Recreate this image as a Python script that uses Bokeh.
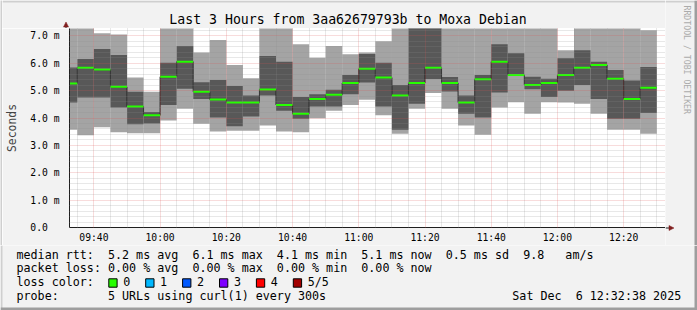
import math
import re
import pandas as pd
from bokeh.plotting import figure
from bokeh.layouts import row, column
from bokeh.models import Range1d, FixedTicker, CustomJSTickFormatter
from bokeh.core.properties import value
from bokeh.embed import file_html
from bokeh.resources import INLINE

# ---------------- data ----------------
bar_end = ["09:35", "09:40", "09:45", "09:50", "09:55", "10:00", "10:05", "10:10",
           "10:15", "10:20", "10:25", "10:30", "10:35", "10:40", "10:45", "10:50",
           "10:55", "11:00", "11:05", "11:10", "11:15", "11:20", "11:25", "11:30",
           "11:35", "11:40", "11:45", "11:50", "11:55", "12:00", "12:05", "12:10",
           "12:15", "12:20", "12:25", "12:30"]
rtt_min = [3.57, 3.37, 3.66, 3.48, 3.44, 3.44, 3.91, 4.34, 3.79, 3.51, 3.54, 3.54,
           3.73, 3.51, 3.48, 3.99, 4.27, 4.48, 4.67, 4.10, 3.43, 4.34, 4.92, 4.34,
           3.73, 3.39, 4.39, 4.58, 4.16, 4.58, 4.57, 4.52, 4.16, 3.57, 3.57, 3.43]
rtt_p2 = [4.57, 4.75, 4.75, 4.39, 3.77, 3.80, 4.48, 5.07, 4.70, 4.02, 3.70, 4.06,
          4.82, 4.27, 3.97, 4.42, 4.42, 4.87, 5.30, 4.42, 3.57, 4.52, 5.43, 4.97,
          4.16, 4.02, 4.93, 5.55, 5.05, 4.77, 5.00, 5.21, 4.70, 3.97, 3.97, 4.18]
rtt_median = [5.26, 5.84, 5.77, 5.14, 4.42, 4.10, 5.51, 6.06, 4.96, 4.68, 4.57, 4.57,
              5.04, 4.48, 4.16, 4.70, 4.85, 5.28, 5.80, 5.48, 4.82, 5.28, 5.84, 5.28,
              4.57, 5.42, 6.06, 5.57, 5.21, 5.28, 5.57, 5.84, 5.94, 5.44, 4.70, 5.11]
rtt_p4 = [5.85, 6.16, 6.52, 6.30, 4.96, 4.22, 6.02, 6.63, 5.31, 5.39, 5.17, 4.82,
          6.27, 6.06, 4.77, 4.87, 5.03, 5.57, 6.34, 6.02, 5.21, 7.50, 7.40, 5.50,
          4.82, 5.57, 6.70, 6.37, 5.51, 5.44, 6.19, 6.48, 6.06, 5.76, 5.37, 5.87]
rtt_max = [7.80, 7.60, 7.10, 7.05, 5.48, 4.96, 7.90, 8.20, 6.40, 6.85, 5.94, 5.45,
           7.70, 7.50, 6.70, 6.20, 6.63, 6.33, 6.40, 6.81, 7.60, 8.40, 8.00, 7.90,
           7.70, 7.60, 8.10, 7.80, 7.50, 7.60, 6.48, 7.90, 7.70, 7.60, 7.50, 7.21]

x_tick_labels = ["09:40", "10:00", "10:20", "10:40", "11:00", "11:20", "11:40", "12:00", "12:20"]
y_ticks = [0, 1, 2, 3, 4, 5, 6, 7]

title_text = "Last 3 Hours from 3aa62679793b to Moxa Debian"
legend_lines = [
    "median rtt:  5.2 ms avg  6.1 ms max  4.1 ms min  5.1 ms now  0.5 ms sd  9.8   am/s",
    "packet loss: 0.00 % avg  0.00 % max  0.00 % min  0.00 % now",
    "loss color:",
    "probe:       5 URLs using curl(1) every 300s",
]
loss_labels = ["0", "1", "2", "3", "4", "5/5"]
loss_colors = ["#26ff00", "#00b8ff", "#0059ff", "#7e00ff", "#ff0000", "#a10000"]
date_text = "Sat Dec  6 12:32:38 2025"
watermark = "RRDTOOL / TOBI OETIKER"

# ---------------- helpers ----------------
DAY = "2025-12-06 "
EPOCH = pd.Timestamp("1970-01-01")


def ms(hhmm):
    return (pd.Timestamp(DAY + hhmm) - EPOCH) / pd.Timedelta(milliseconds=1)


def keep_spaces(s):
    # runs of spaces would collapse in SVG text; keep them with no-break spaces
    return re.sub(r" {2,}", lambda m: " " + "\u00a0" * (len(m.group()) - 1), s)


def mid(baseline, size):
    # vertical middle of a text line whose alphabetic baseline is given
    return baseline - 0.36 * size


MONO = "DejaVu Sans Mono"
BG = "#f2f2f2"
SHADE_A = "#cfcfcf"
SHADE_B = "#9e9e9e"
ARROW = "#801f1f"
AXIS = "#1f1f1f"
TITLE_PX = 13.2
LEG_PX = 11.7

STEP = 5 * 60 * 1000
X0 = ms("09:32:38")
X1 = ms("12:32:38")
YMAX = 200 / 27.5
TOP_H, MAIN_H, BOT_H = 28, 217, 65
LEFT_W, MAIN_W, RIGHT_W = 2, 663, 32


def aux(x0, y0, w, h, bg=BG):
    """helper figure whose data coordinates are page pixels"""
    f = figure(width=w, height=h, x_range=Range1d(x0, x0 + w), y_range=Range1d(y0 + h, y0),
               output_backend="svg", toolbar_location=None, title=None,
               x_axis_location=None, y_axis_location=None,
               min_border=0, min_border_left=0, min_border_right=0,
               min_border_top=0, min_border_bottom=0,
               background_fill_color=bg, border_fill_color=bg, outline_line_color=None)
    f.grid.visible = False
    return f


# ---------------- main chart ----------------
right = [ms(t) for t in bar_end]
left = [r - STEP for r in right]

p = figure(width=MAIN_W, height=MAIN_H, output_backend="svg", toolbar_location=None,
           title=None, x_range=Range1d(X0, X1), y_range=Range1d(0, YMAX),
           min_border_left=63, min_border_right=0, min_border_top=0, min_border_bottom=17,
           background_fill_color="white", border_fill_color=BG, outline_line_color=None)

p.quad(left=left, right=right, bottom=rtt_min, top=rtt_max,
       fill_color="#a4a4a4", line_color=None)
p.quad(left=left, right=right, bottom=rtt_p2, top=rtt_p4,
       fill_color="#585858", line_color=None)
p.step(x=left + [right[-1]], y=rtt_median + [rtt_median[-1]], mode="after",
       line_color="#202020", line_width=1)
p.segment(x0=left, x1=right, y0=rtt_median, y1=rtt_median,
          line_color=loss_colors[0], line_width=2)

major_x = [ms(t) for t in x_tick_labels]
minor_x = [m for m in (ms(t) for t in bar_end) if m not in major_x]
xt = FixedTicker(ticks=major_x, minor_ticks=minor_x)
p.xaxis.ticker = xt
p.xgrid.ticker = xt
p.xaxis.formatter = CustomJSTickFormatter(code="""
const d = new Date(tick);
return String(d.getUTCHours()).padStart(2,'0') + ':' + String(d.getUTCMinutes()).padStart(2,'0');
""")
yt = FixedTicker(ticks=y_ticks, minor_ticks=[i / 5 for i in range(0, 37) if i % 5])
p.yaxis.ticker = yt
p.ygrid.ticker = yt
p.yaxis.formatter = CustomJSTickFormatter(code="""
return tick == 0 ? '0.0\u00a0\u00a0' : tick.toFixed(1) + ' m';
""")

for ax in (p.xaxis[0], p.yaxis[0]):
    ax.major_tick_out = 0
    ax.major_tick_in = 0
    ax.minor_tick_out = 0
    ax.minor_tick_in = 0
    ax.axis_line_color = AXIS
    ax.major_label_text_font = MONO
    ax.major_label_text_font_size = "9.7px"
    ax.major_label_text_color = "black"
p.xaxis.major_label_standoff = 4
p.yaxis.major_label_standoff = 10
p.yaxis.axis_label = "Seconds"
p.yaxis.axis_label_text_font = MONO
p.yaxis.axis_label_text_font_size = "11.4px"
p.yaxis.axis_label_text_font_style = "normal"
p.yaxis.axis_label_standoff = 8

for g in (p.xgrid[0], p.ygrid[0]):
    g.level = "guide"
    g.grid_line_color = "#de4f4f"
    g.grid_line_alpha = 0.4
    g.grid_line_dash = "1 1"
    g.minor_grid_line_color = "#8f8f8f"
    g.minor_grid_line_alpha = 0.4
    g.minor_grid_line_dash = "1 1"

# ---------------- left bevel strip ----------------
left_strip = aux(0, 0, LEFT_W, TOP_H + MAIN_H, bg=SHADE_A)

# ---------------- top strip: title, y-axis arrow ----------------
top = aux(LEFT_W, 0, MAIN_W, TOP_H)
top.quad(left=[LEFT_W], right=[LEFT_W + MAIN_W], top=[0], bottom=[2],
         fill_color=SHADE_A, line_color=None)
top.text(x=[347.5], y=[mid(24, TITLE_PX)], text=[title_text], text_font=value(MONO),
         text_font_size=value(f"{TITLE_PX}px"), text_align="center",
         text_baseline="middle", text_color="black")
top.segment(x0=[65.5], x1=[65.5], y0=[25], y1=[28], line_color=AXIS, line_width=1)
top.patch(x=[63, 68, 65.5], y=[26.5, 26.5, 21.5], fill_color=ARROW, line_color=ARROW,
          line_width=0.5)

# ---------------- right strip: watermark, x-axis arrow ----------------
rs_x0 = LEFT_W + MAIN_W
rs = aux(rs_x0, 0, RIGHT_W, TOP_H + MAIN_H)
rs.quad(left=[rs_x0], right=[rs_x0 + RIGHT_W], top=[0], bottom=[2],
        fill_color=SHADE_A, line_color=None)
rs.quad(left=[694], right=[697], top=[0], bottom=[TOP_H + MAIN_H],
        fill_color=SHADE_B, line_color=None)
rs.text(x=[686.5], y=[5], text=[watermark], angle=-math.pi / 2, text_font=value(MONO),
        text_font_size=value("8.2px"), text_align="left", text_baseline="middle",
        text_color="#ababab")
rs.segment(x0=[665], x1=[669.5], y0=[227.5], y1=[227.5], line_color=AXIS, line_width=1)
rs.patch(x=[668.5, 673.5, 668.5], y=[225, 227.5, 230], fill_color=ARROW, line_color=ARROW,
         line_width=0.5)

# ---------------- bottom strip: legend ----------------
bot = aux(0, TOP_H + MAIN_H, 697, BOT_H)
bot.quad(left=[0], right=[2], top=[TOP_H + MAIN_H], bottom=[310],
         fill_color=SHADE_A, line_color=None)
bot.quad(left=[0], right=[697], top=[307], bottom=[310],
         fill_color=SHADE_B, line_color=None)
bot.quad(left=[694], right=[697], top=[TOP_H + MAIN_H], bottom=[310],
         fill_color=SHADE_B, line_color=None)
baselines = [258.3, 271.7, 285.3, 299.3]
mids = [mid(b, LEG_PX) for b in baselines]
bot.text(x=[16] * 4, y=mids, text=[keep_spaces(t) for t in legend_lines],
         text_font=value(MONO), text_font_size=value(f"{LEG_PX}px"), text_align="left",
         text_baseline="middle", text_color="black")
bot.text(x=[680.7], y=[mids[3]], text=[keep_spaces(date_text)], text_font=value(MONO),
         text_font_size=value(f"{LEG_PX}px"), text_align="right",
         text_baseline="middle", text_color="black")
box_x = [108.3 + 36.9 * i for i in range(len(loss_colors))]
bot.quad(left=box_x, right=[b + 8.3 for b in box_x], top=[278.3] * 6, bottom=[286.7] * 6,
         fill_color=loss_colors, line_color="black", line_width=1)
bot.text(x=[b + 14.4 for b in box_x], y=[mids[2]] * 6, text=loss_labels,
         text_font=value(MONO), text_font_size=value(f"{LEG_PX}px"), text_align="left",
         text_baseline="middle", text_color="black")

# the title strip is wrapped in its own row so that its frame is not aligned
# with the chart frame below it
layout = column(row(left_strip, column(row(top), p), rs), bot)
open("out.html", "w").write(file_html(layout, INLINE))
